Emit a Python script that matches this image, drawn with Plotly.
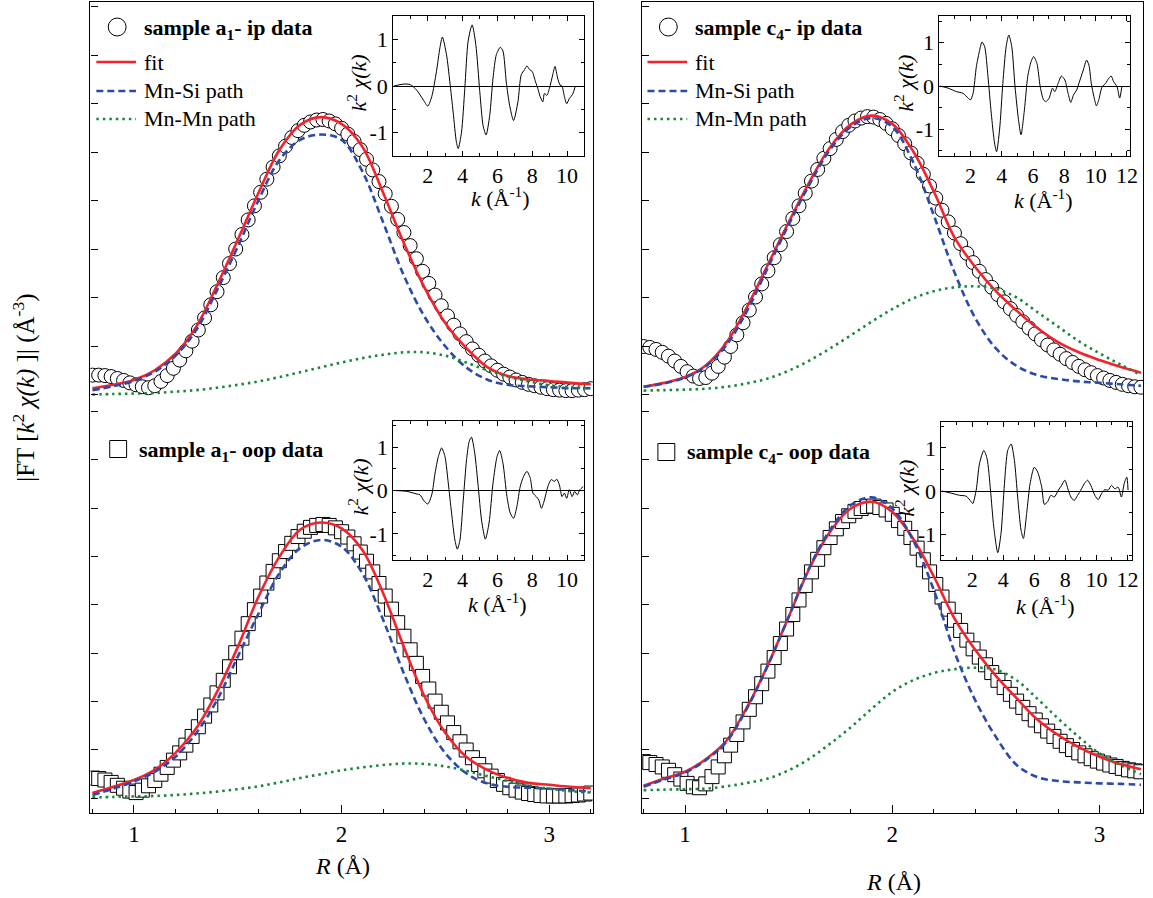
import plotly.graph_objects as go

# ---------------- data ----------------
R_FIT = [0.8, 0.9, 1.0, 1.1, 1.2, 1.3, 1.4, 1.5, 1.6, 1.7, 1.8, 1.9, 2.0,
         2.1, 2.2, 2.3, 2.4, 2.5, 2.6, 2.7, 2.8, 2.9, 3.0, 3.1, 3.2]

R_DATA = [0.80, 0.83, 0.86, 0.89, 0.92, 0.95, 0.98, 1.01, 1.04, 1.07,
          1.10, 1.13, 1.16, 1.19, 1.22, 1.25, 1.28, 1.31, 1.34, 1.37,
          1.40, 1.43, 1.46, 1.49, 1.52, 1.55, 1.58, 1.61, 1.64, 1.67,
          1.70, 1.73, 1.76, 1.79, 1.82, 1.85, 1.88, 1.91, 1.94, 1.97,
          2.00, 2.03, 2.06, 2.09, 2.12, 2.15, 2.18, 2.21, 2.24, 2.27,
          2.30, 2.33, 2.36, 2.39, 2.42, 2.45, 2.48, 2.51, 2.54, 2.57,
          2.60, 2.63, 2.66, 2.69, 2.72, 2.75, 2.78, 2.81, 2.84, 2.87,
          2.90, 2.93, 2.96, 2.99, 3.02, 3.05, 3.08, 3.11, 3.14, 3.17,
          3.20]

# sample a1 - ip
DATA_A = [0.40, 0.40, 0.39, 0.37, 0.33, 0.29, 0.24, 0.20, 0.16, 0.14,
          0.18, 0.27, 0.39, 0.54, 0.71, 0.90, 1.10, 1.33, 1.58, 1.85,
          2.12, 2.41, 2.70, 3.00, 3.30, 3.60, 3.89, 4.17, 4.44, 4.69,
          4.92, 5.12, 5.30, 5.44, 5.55, 5.62, 5.66, 5.67, 5.64, 5.58,
          5.49, 5.37, 5.22, 5.05, 4.85, 4.63, 4.39, 4.14, 3.88, 3.61,
          3.34, 3.07, 2.80, 2.54, 2.29, 2.05, 1.83, 1.62, 1.43, 1.25,
          1.09, 0.94, 0.81, 0.69, 0.59, 0.50, 0.42, 0.36, 0.30, 0.25,
          0.21, 0.18, 0.15, 0.12, 0.10, 0.09, 0.08, 0.08, 0.09, 0.10,
          0.12]
FIT_A = [0.13, 0.20, 0.30, 0.50, 0.84, 1.40, 2.25, 3.19, 4.16, 5.04, 5.56, 5.72, 5.58,
         5.11, 4.16, 3.12, 2.20, 1.47, 0.96, 0.57, 0.38, 0.31, 0.28, 0.24, 0.21]
MNSI_A = [0.09, 0.17, 0.28, 0.47, 0.80, 1.33, 2.15, 3.05, 4.01, 4.83, 5.25, 5.36, 5.25,
          4.60, 3.55, 2.45, 1.60, 0.99, 0.56, 0.31, 0.20, 0.17, 0.15, 0.13, 0.13]
MNMN_A = [0.00, 0.01, 0.02, 0.03, 0.06, 0.09, 0.14, 0.20, 0.27, 0.36, 0.46, 0.56, 0.66,
          0.75, 0.82, 0.87, 0.87, 0.80, 0.66, 0.50, 0.37, 0.27, 0.19, 0.15, 0.13]

# sample a1 - oop
DATA_B = [0.42, 0.41, 0.38, 0.33, 0.27, 0.21, 0.15, 0.12, 0.17, 0.26,
          0.37, 0.50, 0.64, 0.79, 0.94, 1.10, 1.28, 1.48, 1.70, 1.93,
          2.18, 2.44, 2.72, 3.01, 3.31, 3.61, 3.90, 4.18, 4.45, 4.69,
          4.91, 5.10, 5.27, 5.41, 5.52, 5.60, 5.64, 5.66, 5.64, 5.59,
          5.51, 5.40, 5.26, 5.09, 4.90, 4.68, 4.44, 4.18, 3.91, 3.63,
          3.35, 3.07, 2.79, 2.52, 2.26, 2.01, 1.78, 1.56, 1.36, 1.17,
          1.00, 0.84, 0.70, 0.57, 0.46, 0.37, 0.29, 0.22, 0.17, 0.13,
          0.10, 0.08, 0.06, 0.05, 0.05, 0.05, 0.05, 0.06, 0.07, 0.09,
          0.11]
FIT_B = [0.11, 0.24, 0.38, 0.59, 0.94, 1.45, 2.20, 3.13, 4.17, 4.99, 5.55, 5.70, 5.58,
         5.13, 4.24, 3.13, 2.10, 1.35, 0.86, 0.59, 0.42, 0.32, 0.28, 0.24, 0.21]
MNSI_B = [0.07, 0.20, 0.35, 0.55, 0.86, 1.35, 2.03, 2.93, 3.82, 4.65, 5.17, 5.34, 5.20,
          4.65, 3.69, 2.58, 1.62, 0.93, 0.52, 0.31, 0.24, 0.22, 0.20, 0.17, 0.14]
MNMN_B = [0.02, 0.03, 0.04, 0.05, 0.07, 0.10, 0.14, 0.19, 0.25, 0.33, 0.42, 0.50, 0.58,
          0.64, 0.69, 0.72, 0.71, 0.66, 0.57, 0.46, 0.36, 0.27, 0.20, 0.15, 0.12]

# sample c4 - ip
DATA_C = [0.99, 0.97, 0.93, 0.87, 0.79, 0.69, 0.58, 0.47, 0.38, 0.33,
          0.35, 0.44, 0.58, 0.77, 0.99, 1.23, 1.48, 1.74, 2.01, 2.28,
          2.55, 2.82, 3.09, 3.36, 3.63, 3.89, 4.15, 4.40, 4.64, 4.87,
          5.07, 5.26, 5.42, 5.55, 5.64, 5.70, 5.73, 5.72, 5.67, 5.59,
          5.48, 5.34, 5.17, 4.98, 4.77, 4.54, 4.30, 4.05, 3.80, 3.56,
          3.33, 3.11, 2.91, 2.72, 2.54, 2.37, 2.21, 2.06, 1.91, 1.77,
          1.63, 1.50, 1.37, 1.25, 1.13, 1.02, 0.92, 0.83, 0.74, 0.66,
          0.58, 0.51, 0.45, 0.39, 0.34, 0.29, 0.25, 0.21, 0.18, 0.16,
          0.15]
FIT_C = [0.16, 0.24, 0.36, 0.60, 1.07, 1.81, 2.68, 3.55, 4.38, 5.10, 5.57, 5.75, 5.58,
         5.02, 4.19, 3.24, 2.63, 2.13, 1.73, 1.37, 1.08, 0.87, 0.71, 0.57, 0.45]
MNSI_C = [0.16, 0.23, 0.35, 0.58, 1.02, 1.73, 2.62, 3.50, 4.33, 5.05, 5.52, 5.70, 5.52,
          4.80, 3.70, 2.52, 1.58, 0.95, 0.59, 0.40, 0.32, 0.27, 0.24, 0.21, 0.18]
MNMN_C = [0.08, 0.09, 0.10, 0.12, 0.16, 0.23, 0.33, 0.49, 0.70, 0.95, 1.22, 1.50, 1.76,
          1.98, 2.13, 2.21, 2.23, 2.18, 2.00, 1.70, 1.40, 1.10, 0.85, 0.62, 0.40]

# sample c4 - oop
DATA_D = [0.76, 0.74, 0.70, 0.65, 0.58, 0.49, 0.40, 0.31, 0.24, 0.22,
          0.30, 0.45, 0.65, 0.88, 1.10, 1.32, 1.58, 1.84, 2.10, 2.37,
          2.63, 2.91, 3.20, 3.50, 3.80, 4.10, 4.40, 4.68, 4.94, 5.18,
          5.39, 5.57, 5.72, 5.84, 5.93, 5.99, 6.03, 6.04, 6.01, 5.96,
          5.87, 5.74, 5.58, 5.39, 5.17, 4.93, 4.68, 4.42, 4.16, 3.91,
          3.68, 3.47, 3.27, 3.09, 2.92, 2.76, 2.60, 2.44, 2.29, 2.15,
          2.01, 1.88, 1.75, 1.62, 1.50, 1.39, 1.28, 1.18, 1.09, 1.01,
          0.94, 0.88, 0.82, 0.77, 0.73, 0.69, 0.66, 0.62, 0.59, 0.57,
          0.55]
FIT_D = [0.26, 0.41, 0.55, 0.81, 1.19, 1.89, 2.76, 3.75, 4.75, 5.51, 5.99, 6.13, 5.92,
         5.37, 4.59, 3.72, 3.07, 2.53, 2.07, 1.63, 1.31, 1.06, 0.86, 0.71, 0.60]
MNSI_D = [0.24, 0.39, 0.53, 0.79, 1.17, 1.87, 2.75, 3.75, 4.77, 5.55, 6.06, 6.22, 5.99,
          5.34, 4.31, 3.03, 2.03, 1.27, 0.69, 0.44, 0.36, 0.33, 0.31, 0.30, 0.28]
MNMN_D = [0.17, 0.18, 0.19, 0.20, 0.25, 0.32, 0.41, 0.58, 0.82, 1.13, 1.47, 1.85, 2.20,
          2.44, 2.59, 2.67, 2.70, 2.66, 2.44, 2.06, 1.65, 1.27, 0.93, 0.69, 0.50]

# insets: k^2 chi(k)
K_A = [0.05, 0.6, 1.0, 1.37, 1.75, 2.0, 2.23, 2.5, 2.7, 2.84, 3.08, 3.27, 3.46, 3.65,
       3.75, 3.94, 4.13, 4.32, 4.55, 4.76, 4.99, 5.18, 5.35, 5.56, 5.75, 5.94, 6.17,
       6.32, 6.51, 6.70, 6.93, 7.18, 7.37, 7.56, 7.70, 7.85, 8.0, 8.19, 8.32, 8.46,
       8.61, 8.70, 8.84, 8.99, 9.18, 9.31, 9.46, 9.6, 9.71, 9.85, 9.98, 10.13, 10.32, 10.47]
CHI_A = [0.0, 0.04, 0.03, -0.09, -0.30, -0.43, -0.23, 0.31, 0.82, 1.05, 0.67, 0.09, -0.56,
         -1.21, -1.34, -0.99, -0.05, 0.96, 1.31, 0.89, -0.12, -0.85, -1.05, -0.63, 0.17,
         0.67, 0.83, 0.75, 0.09, -0.41, -0.74, -0.34, 0.24, 0.35, 0.43, 0.35, 0.31, 0.09,
         -0.05, -0.23, -0.34, -0.16, -0.20, -0.05, 0.24, 0.42, 0.17, 0.02, 0.0, -0.23,
         -0.38, -0.27, -0.18, -0.01]

K_B = [0.13, 0.8, 1.37, 1.56, 1.75, 2.0, 2.23, 2.42, 2.61, 2.8, 2.99, 3.18, 3.37, 3.56,
       3.7, 3.85, 4.04, 4.23, 4.38, 4.51, 4.70, 4.90, 5.09, 5.31, 5.52, 5.75, 5.98, 6.13,
       6.32, 6.55, 6.74, 6.93, 7.12, 7.31, 7.50, 7.70, 7.89, 8.04, 8.23, 8.38, 8.53, 8.70,
       8.90, 9.09, 9.28, 9.41, 9.56, 9.71, 9.85, 9.98, 10.13, 10.29, 10.44, 10.59, 10.74,
       10.93]
CHI_B = [0.0, -0.02, -0.08, -0.10, -0.22, -0.31, -0.10, 0.40, 0.78, 0.98, 0.78, 0.17,
         -0.52, -1.14, -1.35, -1.14, -0.22, 0.71, 1.13, 1.23, 0.86, 0.09, -0.68, -1.12,
         -0.75, 0.17, 0.78, 0.92, 0.63, -0.14, -0.52, -0.64, -0.37, 0.09, 0.32, 0.44, 0.28,
         -0.06, -0.14, -0.22, -0.41, -0.22, 0.09, 0.25, 0.21, 0.26, 0.13, -0.14, -0.06,
         -0.18, 0.02, -0.14, -0.02, -0.10, 0.02, 0.09]

K_C = [0.05, 0.58, 1.11, 1.53, 1.85, 2.0, 2.17, 2.38, 2.59, 2.74, 2.91, 3.12, 3.33, 3.54,
       3.67, 3.86, 4.07, 4.28, 4.45, 4.64, 4.85, 5.07, 5.23, 5.45, 5.66, 5.87, 6.04, 6.25,
       6.46, 6.67, 6.82, 7.03, 7.24, 7.39, 7.60, 7.81, 8.03, 8.24, 8.41, 8.58, 8.79, 9.0,
       9.21, 9.42, 9.57, 9.72, 9.89, 10.05, 10.20, 10.41, 10.63, 10.84, 10.99, 11.15,
       11.37, 11.53, 11.68]
CHI_C = [0.0, -0.05, -0.13, -0.17, -0.28, -0.32, -0.17, 0.45, 0.83, 1.02, 0.91, 0.22,
         -0.63, -1.32, -1.52, -1.02, 0.06, 0.91, 1.18, 0.91, -0.02, -0.78, -1.13, -0.55,
         0.22, 0.56, 0.68, 0.52, -0.02, -0.32, -0.36, -0.28, -0.05, -0.13, 0.06, 0.23,
         0.14, -0.17, -0.38, -0.21, -0.09, 0.14, 0.37, 0.60, 0.48, 0.06, -0.25, -0.46,
         -0.32, -0.02, 0.06, 0.18, 0.23, 0.10, -0.02, -0.28, 0.0]

K_D = [0.05, 0.65, 1.19, 1.61, 1.94, 2.04, 2.26, 2.47, 2.75, 2.96, 3.18, 3.39, 3.65, 3.86,
       4.08, 4.29, 4.51, 4.72, 4.93, 5.15, 5.30, 5.51, 5.73, 6.0, 6.22, 6.48, 6.65, 6.86,
       7.07, 7.29, 7.55, 7.76, 7.97, 8.19, 8.36, 8.57, 8.79, 9.0, 9.22, 9.43, 9.64, 9.90,
       10.12, 10.33, 10.54, 10.76, 10.97, 11.19, 11.40, 11.61, 11.79, 11.96, 12.04]
CHI_D = [0.0, -0.05, -0.10, -0.12, -0.25, -0.29, 0.02, 0.63, 0.94, 0.75, 0.02, -0.83,
         -1.43, -0.98, 0.17, 0.94, 1.09, 0.71, -0.14, -0.91, -1.10, -0.52, 0.17, 0.55,
         0.44, 0.09, -0.31, -0.25, -0.10, -0.14, 0.02, 0.13, 0.25, 0.02, -0.14, -0.22,
         -0.10, 0.02, 0.17, 0.25, 0.13, -0.10, -0.20, -0.06, 0.03, 0.02, 0.13, 0.05, 0.09,
         -0.14, 0.17, 0.32, 0.02]

LABEL_A = "<b>sample a<sub>1</sub>- ip data</b>"
LABEL_B = "<b>sample a<sub>1</sub>- oop data</b>"
LABEL_C = "<b>sample c<sub>4</sub>- ip data</b>"
LABEL_D = "<b>sample c<sub>4</sub>- oop data</b>"
LINE_LABELS = ["fit", "Mn-Si path", "Mn-Mn path"]

# ---------------- style / layout ----------------
W, H = 1153, 898
FONT = "Liberation Serif"
RED = "#f5222d"
BLUE = "#2c4aa8"
GREEN = "#17883a"
DASH = "7px,4px"
DOT = "2.5px,4px"


def fx(p):
    return p / W


def fy(p):
    return 1 - p / H


fig = go.Figure()

panels = [
    ("x2", "y2", DATA_A, FIT_A, MNSI_A, MNMN_A, "circle"),
    ("x", "y", DATA_B, FIT_B, MNSI_B, MNMN_B, "square"),
    ("x4", "y4", DATA_C, FIT_C, MNSI_C, MNMN_C, "circle"),
    ("x3", "y3", DATA_D, FIT_D, MNSI_D, MNMN_D, "square"),
]
for xa, ya, d, f, s, m, sym in panels:
    fig.add_trace(go.Scatter(x=R_DATA, y=d, mode="markers", xaxis=xa, yaxis=ya,
                             marker=dict(symbol=sym, size=14, color="white",
                                         line=dict(color="black", width=1)),
                             showlegend=False))
    fig.add_trace(go.Scatter(x=R_FIT, y=f, mode="lines", xaxis=xa, yaxis=ya,
                             line=dict(color=RED, width=2.6, shape="spline"),
                             showlegend=False))
    fig.add_trace(go.Scatter(x=R_FIT, y=s, mode="lines", xaxis=xa, yaxis=ya,
                             line=dict(color=BLUE, width=2.6, dash=DASH, shape="spline"),
                             showlegend=False))
    fig.add_trace(go.Scatter(x=R_FIT, y=m, mode="lines", xaxis=xa, yaxis=ya,
                             line=dict(color=GREEN, width=2.6, dash=DOT, shape="spline"),
                             showlegend=False))

insets = [("x5", "y5", K_A, CHI_A), ("x6", "y6", K_B, CHI_B),
          ("x7", "y7", K_C, CHI_C), ("x8", "y8", K_D, CHI_D)]
for xa, ya, k, c in insets:
    fig.add_trace(go.Scatter(x=k, y=c, mode="lines", xaxis=xa, yaxis=ya,
                             line=dict(color="black", width=1, shape="spline", smoothing=0.7),
                             showlegend=False))

tickfont = dict(family=FONT, size=23, color="black")
common = dict(showgrid=False, zeroline=False, showline=True, linecolor="black",
              linewidth=1.3, ticks="inside", tickcolor="black", tickwidth=1.3)

L_X = [fx(91), fx(597)]
R_X = [fx(646), fx(1151)]
TOP_Y = [fy(398), fy(2)]
BOT_Y = [fy(813), fy(398)]

minor_x = dict(dtick=0.2, tick0=0, ticks="inside", ticklen=4, tickwidth=1.3,
               tickcolor="black", showgrid=False)
main_y = dict(tick0=0, dtick=1, ticklen=7, showticklabels=False, mirror=True, **common)

layout = dict(
    width=W, height=H, margin=dict(l=0, r=0, t=0, b=0),
    paper_bgcolor="white", plot_bgcolor="white", showlegend=False,
    font=dict(family=FONT, color="black"),
    xaxis=dict(domain=L_X, anchor="y", range=[0.79, 3.21], tick0=0, dtick=1, ticklen=8,
               tickfont=tickfont, minor=minor_x, **common),
    yaxis=dict(domain=BOT_Y, anchor="x", range=[-0.302, 8.273], **main_y),
    xaxis2=dict(domain=L_X, anchor="y2", matches="x", side="top", showticklabels=False,
                tick0=0, dtick=1, ticklen=0, **common),
    yaxis2=dict(domain=TOP_Y, anchor="x2", range=[-0.072, 8.093], **main_y),
    xaxis3=dict(domain=R_X, anchor="y3", range=[0.79, 3.21], tick0=0, dtick=1, ticklen=8,
                tickfont=tickfont, minor=minor_x, **common),
    yaxis3=dict(domain=BOT_Y, anchor="x3", range=[-0.302, 8.273], **main_y),
    xaxis4=dict(domain=R_X, anchor="y4", matches="x3", side="top", showticklabels=False,
                tick0=0, dtick=1, ticklen=0, **common),
    yaxis4=dict(domain=TOP_Y, anchor="x4", range=[-0.072, 8.093], **main_y),
)

inset_boxes = [
    ("5", (396, 588), (16, 156), [0.02, 10.97], [-1.5, 1.5], [2, 4, 6, 8, 10], [1, 3, 5, 7, 9]),
    ("6", (396, 588), (421, 560), [0.02, 10.97], [-1.6, 1.6], [2, 4, 6, 8, 10], [1, 3, 5, 7, 9]),
    ("7", (946, 1138), (16, 156), [0.02, 12.2], [-1.62, 1.62], [2, 4, 6, 8, 10, 12], [1, 3, 5, 7, 9, 11]),
    ("8", (948, 1140), (422, 560), [0.02, 12.3], [-1.6, 1.6], [2, 4, 6, 8, 10, 12], [1, 3, 5, 7, 9, 11]),
]
ins_common = dict(showgrid=False, showline=True, linecolor="black", linewidth=1,
                  ticks="inside", tickcolor="black", tickwidth=1, ticklen=5,
                  mirror="ticks", tickfont=dict(family=FONT, size=22, color="black"))
for n, (x0, x1), (y0, y1), xr, yr, xt, xm in inset_boxes:
    layout["xaxis" + n] = dict(domain=[fx(x0), fx(x1)], anchor="y" + n, range=xr,
                               tickmode="array", tickvals=xt, zeroline=False,
                               minor=dict(tickmode="array", tickvals=xm, ticks="inside",
                                          ticklen=3, tickcolor="black", tickwidth=1),
                               **ins_common)
    layout["yaxis" + n] = dict(domain=[fy(y1), fy(y0)], anchor="x" + n, range=yr,
                               tickmode="array", tickvals=[-1, 0, 1],
                               ticktext=["-1", "0", "1"],
                               zeroline=True, zerolinecolor="black", zerolinewidth=1,
                               minor=dict(tickmode="array", tickvals=[-1.5, -0.5, 0.5, 1.5],
                                          ticks="inside", ticklen=3, tickcolor="black",
                                          tickwidth=1),
                               **ins_common)

fig.update_layout(**layout)

# ---------------- annotations ----------------
ann = []


def add_text(x, y, text, size=22, angle=0, xanchor="left"):
    ann.append(dict(x=fx(x), y=fy(y), xref="paper", yref="paper", text=text,
                    showarrow=False, xanchor=xanchor, yanchor="middle", textangle=angle,
                    font=dict(family=FONT, size=size, color="black")))


add_text(24, 388, "|FT [<i>k</i><sup>2</sup> <i>χ(k)</i> ]| (Å<sup>-3</sup>)",
         size=25, angle=-90, xanchor="center")
add_text(345, 866, "<i>R</i> (Å)", size=24, xanchor="center")
add_text(900, 882, "<i>R</i> (Å)", size=24, xanchor="center")

# data labels
add_text(143, 29, LABEL_A, size=22)
add_text(138, 451, LABEL_B, size=22)
add_text(698, 29, LABEL_C, size=22)
add_text(690, 453, LABEL_D, size=22)

# line legend texts
for xoff in (0, 555):
    for yy, lab in zip((63, 91, 119), LINE_LABELS):
        add_text(143 + xoff, yy, lab, size=22)

# inset axis titles
for cx, cy in ((504, 197), (501, 603), (1051, 199), (1053, 605)):
    add_text(cx, cy, "<i>k</i> (Å<sup>-1</sup>)", size=22, xanchor="center")
for cx, cy in ((359, 83), (361, 487), (910, 83), (911, 488)):
    add_text(cx, cy, "<i>k</i><sup>2</sup> <i>χ(k)</i>", size=22, angle=-90, xanchor="center")

shapes = []
for xoff in (0, 555):
    shapes.append(dict(type="circle", xref="paper", yref="paper",
                       x0=fx(109 + xoff), x1=fx(127 + xoff), y0=fy(36), y1=fy(18),
                       line=dict(color="black", width=1), fillcolor="rgba(0,0,0,0)"))
    for yy, col, dash in ((62, RED, "solid"), (91, BLUE, DASH), (119, GREEN, DOT)):
        shapes.append(dict(type="line", xref="paper", yref="paper",
                           x0=fx(97 + xoff), x1=fx(137 + xoff), y0=fy(yy), y1=fy(yy),
                           line=dict(color=col, width=2.6, dash=dash)))
for cx, cy in ((119, 449), (671, 452)):
    shapes.append(dict(type="rect", xref="paper", yref="paper",
                       x0=fx(cx - 8.5), x1=fx(cx + 8.5), y0=fy(cy + 8.5), y1=fy(cy - 8.5),
                       line=dict(color="black", width=1), fillcolor="rgba(0,0,0,0)"))

fig.update_layout(annotations=ann, shapes=shapes)
fig.write_html("out.html")
